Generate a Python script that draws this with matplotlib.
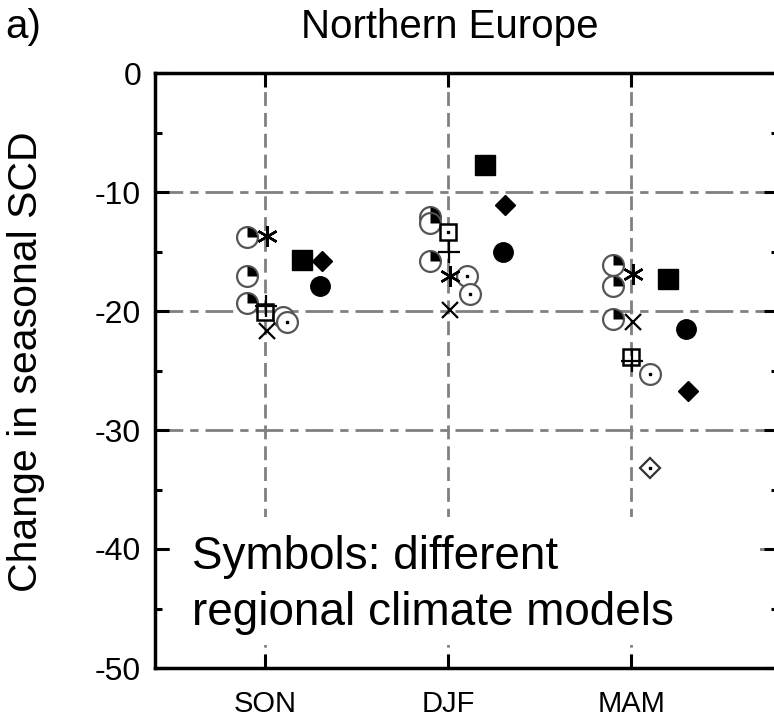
import numpy as np
import matplotlib
matplotlib.use('Agg')
import matplotlib.pyplot as plt
from matplotlib.path import Path
from matplotlib.markers import MarkerStyle
import matplotlib.ticker as ticker

seasons = ['SON', 'DJF', 'MAM']
nan = np.nan

# values per model (SON, DJF, MAM)
pie_a = [-13.8, -12.1, -16.1]
pie_b = [-17.1, -12.6, -17.9]
pie_c = [-19.3, -15.8, -20.7]
asterisk = [-13.7, -17.1, -16.9]
cross = [-21.7, -19.9, -20.9]
plus = [-19.6, -15.0, -24.2]
open_square = [-20.1, nan, -23.9]
dot_square = [nan, -13.4, nan]
dot_circle_a = [-20.5, -17.1, -25.3]
dot_circle_b = [-20.9, -18.6, nan]
dot_diamond = [nan, nan, -33.2]
black_square = [-15.7, -7.7, -17.3]
black_diamond = [-15.8, -11.1, -26.7]
black_circle = [-17.9, -15.0, -21.5]

yticks = [0, -10, -20, -30, -40, -50]

plt.rcParams['font.family'] = ['Liberation Sans', 'DejaVu Sans']

fig = plt.figure(figsize=(7.74, 7.2), dpi=100)
ax = fig.add_axes([155/774, 1-668/720, 623/774, 595/720])

xpos = np.arange(1, 4)
gray = '#555555'
wedge = MarkerStyle(Path.wedge(0, 90))

def pts(vals, off):
    return xpos + off, np.array(vals, dtype=float)

# pie circles
for vals in (pie_a, pie_b, pie_c):
    x, y = pts(vals, -0.10)
    ax.plot(x, y, ls='none', marker='o', ms=15, mfc='white', mec=gray, mew=1.6, zorder=3)
    ax.plot(x, y, ls='none', marker=wedge, ms=14, mfc='black', mec='black', mew=0, zorder=3)

x, y = pts(asterisk, 0.01)
ax.plot(x, y, ls='none', marker=(6, 2, 0), ms=15, mec='black', mew=1.8, zorder=4)
x, y = pts(cross, 0.01)
ax.plot(x, y, ls='none', marker='x', ms=11, mec='black', mew=1.6, zorder=4)
x, y = pts(plus, 0.005)
ax.plot(x, y, ls='none', marker='+', ms=16, mec='black', mew=1.6, zorder=4)
x, y = pts(open_square, 0.0)
ax.plot(x, y, ls='none', marker='s', ms=12, mfc='none', mec='black', mew=1.8, zorder=4)
x, y = pts(dot_square, 0.0)
ax.plot(x, y, ls='none', marker='s', ms=12, mfc='white', mec='black', mew=1.8, zorder=4)
ax.plot(x, y, ls='none', marker='s', ms=2, mfc='black', mec='black', zorder=4)

for vals, off in ((dot_circle_a, 0.10), (dot_circle_b, 0.12)):
    x, y = pts(vals, off)
    ax.plot(x, y, ls='none', marker='o', ms=15, mfc='white', mec=gray, mew=1.6, zorder=3)
    ax.plot(x, y, ls='none', marker='s', ms=2, mfc='black', mec='black', zorder=3)

x, y = pts(dot_diamond, 0.10)
ax.plot(x, y, ls='none', marker='D', ms=10, mfc='white', mec='#333333', mew=1.6, zorder=3)
ax.plot(x, y, ls='none', marker='s', ms=2, mfc='black', mec='black', zorder=3)

x, y = pts(black_square, 0.20)
ax.plot(x, y, ls='none', marker='s', ms=14, color='black', zorder=3)
x, y = pts(black_diamond, 0.31)
ax.plot(x, y, ls='none', marker='D', ms=10, color='black', zorder=3)
x, y = pts(black_circle, 0.30)
ax.plot(x, y, ls='none', marker='o', ms=14, color='black', zorder=3)

ax.set_xlim(0.4, 3.8)
ax.set_ylim(-50, 0)

# grid
for v in yticks[1:-1]:
    ax.axhline(v, color='#808080', lw=2, dashes=(10, 2.5, 3, 2.5), zorder=1)
for xv in xpos:
    ax.axvline(xv, color='#808080', lw=2, dashes=(5, 2.5), zorder=1)

# white box behind the note
ax.add_patch(plt.Rectangle((0.48, -48.1), 3.22, 10.8, facecolor='white',
                           edgecolor='none', zorder=2))
ax.text(0.60, -43.0, 'Symbols: different\nregional climate models',
        fontsize=33, va='center', ha='left', linespacing=1.35, zorder=5)

ax.set_xticks(xpos)
ax.set_xticklabels(seasons, fontsize=21)
ax.set_yticks(yticks)
ax.yaxis.set_major_formatter(ticker.FuncFormatter(lambda v, p: '%d' % v))
ax.yaxis.set_minor_locator(ticker.MultipleLocator(5))
ax.tick_params(axis='both', which='major', direction='in', length=10, width=2.2,
               top=True, right=True, pad=16)
ax.tick_params(axis='y', which='major', labelsize=23, pad=10)
ax.tick_params(axis='y', which='minor', direction='in', length=5, width=2.2,
               right=True, left=True)
for s in ax.spines.values():
    s.set_linewidth(2.5)

ax.set_ylabel('Change in seasonal SCD', fontsize=29.5)
ax.yaxis.set_label_coords(-0.177, 0.514)
fig.text(450/774, 1-27/720, 'Northern Europe', fontsize=29, ha='center', va='center')
fig.text(5/774, 1-27/720, 'a)', fontsize=29, ha='left', va='center')

fig.savefig('out.png', dpi=100)
